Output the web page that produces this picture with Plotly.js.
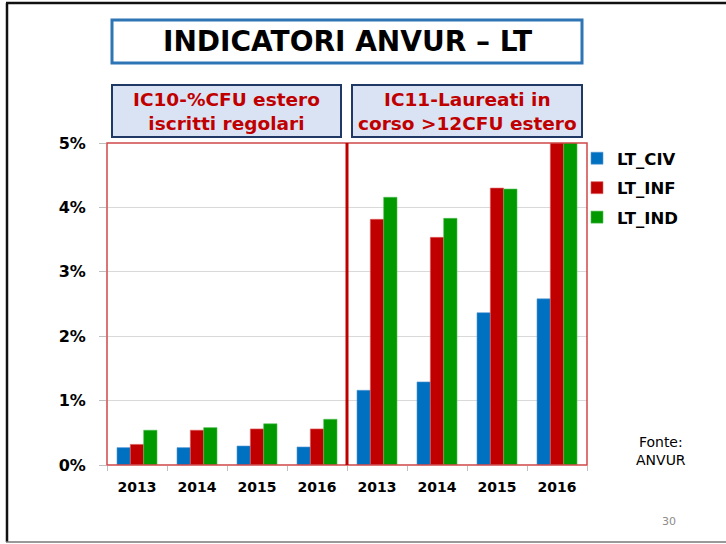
<!DOCTYPE html>
<html>
<head>
<meta charset="utf-8">
<script src="https://cdn.plot.ly/plotly-3.0.1.min.js"></script>
<style>
html,body{margin:0;padding:0;background:#fff;}
#chart{width:726px;height:544px;}
</style>
</head>
<body>
<div id="chart"></div>
<script>
// ---- data ----
const groups = ["IC10", "IC11"];
const years = ["2013", "2014", "2015", "2016"];
const seriesNames = ["LT_CIV", "LT_INF", "LT_IND"];
const ltCiv = [0.27, 0.27, 0.295, 0.28, 1.16, 1.29, 2.365, 2.58];
const ltInf = [0.32, 0.54, 0.56, 0.56, 3.815, 3.535, 4.30, 5.5];
const ltInd = [0.54, 0.58, 0.64, 0.71, 4.157, 3.83, 4.285, 5.6];
const yTicks = [0, 1, 2, 3, 4, 5];
const yTickLabels = ["0%", "1%", "2%", "3%", "4%", "5%"];
const mainTitle = "INDICATORI ANVUR – LT";
const panelTitles = ["IC10-%CFU estero<br>iscritti regolari", "IC11-Laureati in<br>corso >12CFU estero"];
const sourceNote = "Fonte:<br>ANVUR";
const pageNumber = "30";

// ---- build ----
const cats = [];
const catLabels = [];
groups.forEach(g => years.forEach(y => { cats.push(g + " " + y); catLabels.push(y); }));
const colors = ["#0070c0", "#c00000", "#009900"];
const edge = ["#5b9bd5", "#e06060", "#50c050"];
const values = [ltCiv, ltInf, ltInd];

const traces = values.map((v, i) => ({
  type: "bar",
  x: cats,
  y: v,
  name: seriesNames[i],
  legendgroup: "g" + i,
  marker: { color: colors[i], line: { color: edge[i], width: 0.6 } },
  hoverinfo: "skip"
}));

// page geometry helpers (pixel -> paper)
const M = { l: 107, r: 139, t: 143, b: 79 };
const PW = 726 - M.l - M.r, PH = 544 - M.t - M.b;
const px = v => (v - M.l) / PW;
const py = v => (544 - M.b - v) / PH;

const FONT = "DejaVu Sans, Liberation Sans, sans-serif";

const shapes = [
  // slide border
  { type: "line", xref: "paper", yref: "paper", x0: px(7), x1: px(7), y0: py(3), y1: py(542), line: { color: "#111", width: 2.5 }, layer: "below" },
  { type: "line", xref: "paper", yref: "paper", x0: px(6), x1: px(730), y0: py(3), y1: py(3), line: { color: "#111", width: 2.5 }, layer: "below" },
  { type: "line", xref: "paper", yref: "paper", x0: px(6), x1: px(730), y0: py(542), y1: py(542), line: { color: "#777", width: 1.5 }, layer: "below" },
  // title box
  { type: "rect", xref: "paper", yref: "paper", x0: px(112), x1: px(582), y0: py(63), y1: py(20), line: { color: "#2e75b6", width: 3 }, fillcolor: "#ffffff", layer: "below" },
  // panel title boxes
  { type: "rect", xref: "paper", yref: "paper", x0: px(112), x1: px(341), y0: py(137), y1: py(85), line: { color: "#1f3864", width: 2 }, fillcolor: "#dae3f3", layer: "below" },
  { type: "rect", xref: "paper", yref: "paper", x0: px(352), x1: px(582), y0: py(137), y1: py(85), line: { color: "#1f3864", width: 2 }, fillcolor: "#dae3f3", layer: "below" },
  // plot frame
  { type: "rect", xref: "paper", yref: "paper", x0: 0, x1: 1, y0: 0, y1: 1, line: { color: "#d04848", width: 1.5 } },
  // divider
  { type: "line", xref: "paper", yref: "paper", x0: 0.5, x1: 0.5, y0: 0, y1: 1, line: { color: "#c00000", width: 3 } }
];

const annotations = [
  { xref: "paper", yref: "paper", x: px(347), y: py(42), text: mainTitle, showarrow: false, xanchor: "center", yanchor: "middle",
    font: { family: FONT, size: 28, color: "#000", weight: "bold" } },
  { xref: "paper", yref: "paper", x: px(226.5), y: py(111), text: panelTitles[0], showarrow: false, xanchor: "center", yanchor: "middle",
    font: { family: FONT, size: 18.5, color: "#c00000", weight: "bold" } },
  { xref: "paper", yref: "paper", x: px(467), y: py(111), text: panelTitles[1], showarrow: false, xanchor: "center", yanchor: "middle",
    font: { family: FONT, size: 18.5, color: "#c00000", weight: "bold" } },
  { xref: "paper", yref: "paper", x: px(661), y: py(451), text: sourceNote, showarrow: false, xanchor: "center", yanchor: "middle",
    font: { family: FONT, size: 14, color: "#000" } },
  { xref: "paper", yref: "paper", x: px(669), y: py(521), text: pageNumber, showarrow: false, xanchor: "center", yanchor: "middle",
    font: { family: FONT, size: 11, color: "#8c8c8c" } }
];

const layout = {
  width: 726, height: 544,
  margin: M,
  paper_bgcolor: "#fff", plot_bgcolor: "#fff",
  barmode: "group", bargap: 1/3, bargroupgap: 0,
  showlegend: true,
  legend: {
    x: px(577), y: py(141), xanchor: "left", yanchor: "top",
    traceorder: "grouped", tracegroupgap: 5,
    font: { family: FONT, size: 16.5, color: "#000", weight: "bold" },
    bgcolor: "rgba(0,0,0,0)"
  },
  xaxis: {
    type: "category",
    tickmode: "array", tickvals: cats, ticktext: catLabels,
    tickson: "boundaries", ticks: "outside", ticklen: 5, tickcolor: "#bfbfbf",
    ticklabelstandoff: 12,
    showline: false, showgrid: false, zeroline: false,
    tickfont: { family: FONT, size: 14, color: "#000", weight: "bold" },
    fixedrange: true
  },
  yaxis: {
    range: [0, 5], tickmode: "array", tickvals: yTicks, ticktext: yTickLabels,
    ticks: "outside", ticklen: 7, tickcolor: "#bfbfbf",
    ticklabelstandoff: 10,
    showgrid: true, gridcolor: "#d9d9d9", gridwidth: 1,
    showline: false, zeroline: false,
    tickfont: { family: FONT, size: 16, color: "#000", weight: "bold" },
    fixedrange: true
  },
  shapes: shapes,
  annotations: annotations
};

Plotly.newPlot("chart", traces, layout, { displayModeBar: false, staticPlot: true });
</script>
</body>
</html>
